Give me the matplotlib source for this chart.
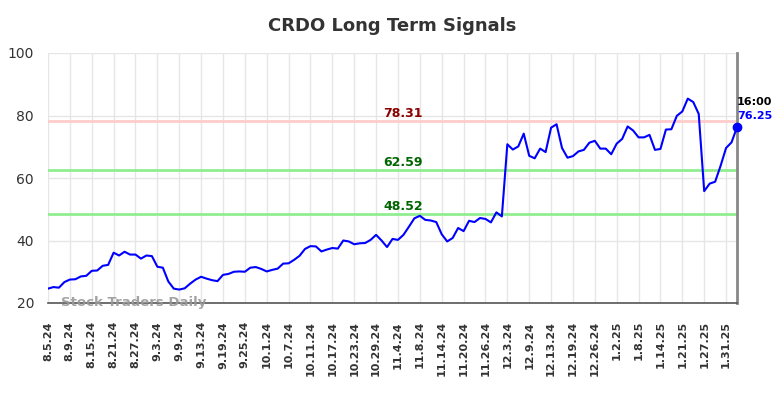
import matplotlib
matplotlib.use("Agg")
import matplotlib.pyplot as plt

title = "CRDO Long Term Signals"
tick_labels = ["8.5.24", "8.9.24", "8.15.24", "8.21.24", "8.27.24", "9.3.24", "9.9.24",
               "9.13.24", "9.19.24", "9.25.24", "10.1.24", "10.7.24", "10.11.24", "10.17.24",
               "10.23.24", "10.29.24", "11.4.24", "11.8.24", "11.14.24", "11.20.24",
               "11.26.24", "12.3.24", "12.9.24", "12.13.24", "12.19.24", "12.26.24",
               "1.2.25", "1.8.25", "1.14.25", "1.21.25", "1.27.25", "1.31.25"]
tick_step = 4

values = [24.6, 25.1, 24.9, 26.7, 27.5, 27.6, 28.5, 28.7, 30.3, 30.4,
          31.9, 32.2, 36.1, 35.2, 36.4, 35.5, 35.5, 34.2, 35.2, 35.0,
          31.6, 31.3, 26.9, 24.6, 24.3, 24.7, 26.2, 27.5, 28.4, 27.8,
          27.3, 27.0, 29.0, 29.3, 30.0, 30.1, 30.0, 31.3, 31.5, 30.9,
          30.1, 30.6, 31.0, 32.6, 32.7, 33.8, 35.1, 37.3, 38.2, 38.1,
          36.5, 37.1, 37.6, 37.4, 40.0, 39.7, 38.8, 39.1, 39.2, 40.2,
          41.8, 40.0, 37.9, 40.5, 40.2, 41.8, 44.4, 47.1, 47.9, 46.6,
          46.4, 45.9, 42.0, 39.7, 40.8, 44.0, 43.0, 46.3, 45.9, 47.2,
          46.9, 45.8, 49.0, 47.7, 70.8, 69.1, 70.1, 74.2, 67.1, 66.3,
          69.4, 68.3, 76.1, 77.2, 69.6, 66.5, 67.0, 68.5, 69.0, 71.3,
          71.9, 69.4, 69.4, 67.6, 71.0, 72.5, 76.5, 75.2, 73.0, 73.0,
          73.8, 69.0, 69.3, 75.5, 75.6, 79.9, 81.3, 85.4, 84.3, 80.5,
          55.8, 58.2, 58.8, 63.9, 69.6, 71.4, 76.25]

resistance = 78.31
support_levels = [62.59, 48.52]
last_time = "16:00"
watermark = "Stock Traders Daily"

W, H = 784, 398
fig = plt.figure(figsize=(W / 100, H / 100), dpi=100)
ax = fig.add_axes([48 / W, 1 - 303 / H, (737 - 48) / W, (303 - 53) / H])

x = list(range(len(values)))
ax.set_xlim(0, len(values) - 1)
ax.set_ylim(20, 100)

ax.set_yticks([20, 40, 60, 80, 100])
ax.set_xticks(list(range(0, len(tick_labels) * tick_step, tick_step)))
ax.set_xticklabels(tick_labels, rotation=90, fontsize=8, fontweight="bold", color="#333333")
ax.tick_params(axis="y", labelsize=10, colors="#333333", length=0, pad=10)
ax.tick_params(axis="x", length=0, pad=13)
ax.grid(True, color="#e6e6e6", linewidth=1)
ax.set_axisbelow(True)

for s in ["top", "left"]:
    ax.spines[s].set_visible(False)
ax.spines["bottom"].set_color("#555555")
ax.spines["bottom"].set_linewidth(1.2)
ax.spines["right"].set_color("#888888")
ax.spines["right"].set_linewidth(2)

ax.axhline(resistance, color="#ffcccc", linewidth=2, zorder=1)
for lv in support_levels:
    ax.axhline(lv, color="#90ee90", linewidth=2, zorder=1)

label_x = 61.3
ax.text(label_x, resistance + 2.4, f"{resistance:.2f}", color="#8b0000", fontsize=9,
        fontweight="bold", ha="left", va="center")
for lv in support_levels:
    ax.text(label_x, lv + 2.4, f"{lv:.2f}", color="#006400", fontsize=9,
            fontweight="bold", ha="left", va="center")

ax.plot(x, values, color="#0000ff", linewidth=1.5, zorder=3)
ax.plot([x[-1]], [values[-1]], "o", color="#0000ff", markersize=6, zorder=4, clip_on=False)

ax.annotate(last_time, xy=(x[-1], values[-1]), xytext=(0, 18), textcoords="offset points",
            fontsize=8, fontweight="bold", color="black", ha="left", va="center",
            annotation_clip=False)
ax.annotate(f"{values[-1]:.2f}", xy=(x[-1], values[-1]), xytext=(0, 8), textcoords="offset points",
            fontsize=8, fontweight="bold", color="#0000ff", ha="left", va="center",
            annotation_clip=False)

ax.text(2.3, 20.3, watermark, color="#999999", fontsize=9.5, fontweight="bold",
        ha="left", va="center", alpha=0.9, zorder=5)

fig.text(0.5 * (48 + 737) / W, 1 - 26 / H, title, fontsize=13, fontweight="bold",
         color="#333333", ha="center", va="center")

fig.savefig("out.png", dpi=100)
